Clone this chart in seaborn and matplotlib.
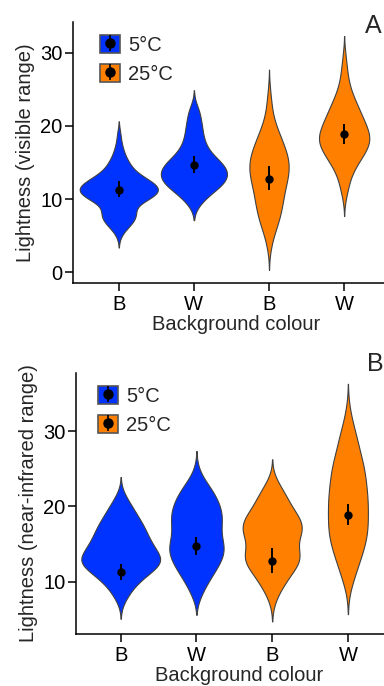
import numpy as np
import pandas as pd
import matplotlib
matplotlib.use("Agg")
import matplotlib.pyplot as plt
import seaborn as sns
from matplotlib.patches import Patch
from matplotlib.lines import Line2D

# groups in plotting order: temperature x background colour
groups = ["5B", "5W", "25B", "25W"]
tick_labels = ["B", "W", "B", "W"]
temps = ["5°C", "25°C"]
blue = "#0033ff"
orange = "#ff8000"
group_colours = [blue, blue, orange, orange]

# visible range: lightness levels and number of animals at each level
vis_5B_levels = [5, 6, 7, 8, 9, 10, 11, 12, 13, 14, 15, 16, 17, 18, 19]
vis_5B_counts = [1, 4, 8, 9, 7, 15, 21, 19, 12, 7, 5, 3, 2, 1, 1]
vis_5W_levels = [9, 10, 11, 12, 13, 14, 15, 16, 17, 18, 19, 20, 21, 22, 23]
vis_5W_counts = [2, 5, 9, 14, 16, 16, 13, 9, 6, 5, 4, 4, 3, 3, 1]
vis_25B_levels = [3, 4, 5, 6, 7, 8, 9, 10, 11, 12, 13, 14, 15, 16, 17, 18, 19,
                  20, 21, 22, 23, 24, 25]
vis_25B_counts = [1, 2, 3, 5, 7, 8, 9, 10, 10, 12, 13, 14, 14, 13, 11, 9, 7,
                  5, 3, 2, 2, 1, 1]
vis_25W_levels = [10, 11, 12, 13, 14, 15, 16, 17, 18, 19, 20, 21, 22, 23, 24,
                  25, 26, 27, 28, 29, 30]
vis_25W_counts = [1, 2, 3, 4, 6, 9, 12, 15, 17, 16, 14, 12, 10, 8, 6, 4, 3, 2,
                  2, 1, 1]

# near-infrared range
nir_5B_levels = [7, 8, 9, 10, 11, 12, 13, 14, 15, 16, 17, 18, 19, 20, 21, 22]
nir_5B_counts = [1, 3, 5, 8, 12, 17, 19, 16, 14, 12, 11, 9, 7, 5, 3, 1]
nir_5W_levels = [8, 9, 10, 11, 12, 13, 14, 15, 16, 17, 18, 19, 20, 21, 22, 23,
                 24, 25]
nir_5W_counts = [2, 3, 5, 7, 9, 11, 12, 12, 10, 10, 11, 11, 10, 9, 7, 5, 2, 1]
nir_25B_levels = [7, 8, 9, 10, 11, 12, 13, 14, 15, 16, 17, 18, 19, 20, 21, 22,
                  23, 24]
nir_25B_counts = [1, 2, 4, 6, 8, 11, 13, 12, 10, 12, 14, 13, 11, 8, 7, 5, 3, 1]
nir_25W_levels = [9, 10, 11, 12, 13, 14, 15, 16, 17, 18, 19, 20, 21, 22, 23,
                  24, 25, 26, 27, 28, 29, 30, 31, 32, 33]
nir_25W_counts = [1, 2, 3, 4, 5, 6, 7, 8, 8, 8, 8, 8, 8, 8, 7, 7, 7, 6, 5, 4,
                  4, 3, 2, 1, 1]

# mean and 95% CI shown on each violin
vis_means = [11.3, 14.7, 12.8, 18.9]
vis_lower = [10.3, 13.5, 11.2, 17.5]
vis_upper = [12.4, 15.9, 14.5, 20.3]
nir_means = [11.3, 14.7, 12.8, 18.9]
nir_lower = [10.2, 13.5, 11.2, 17.5]
nir_upper = [12.4, 15.9, 14.5, 20.3]


def make_frame(levels_list, counts_list):
    parts = []
    for g, lv, ct in zip(groups, levels_list, counts_list):
        parts.append(pd.DataFrame({"group": g, "lightness": np.repeat(lv, ct)}))
    return pd.concat(parts, ignore_index=True)


vis_df = make_frame([vis_5B_levels, vis_5W_levels, vis_25B_levels, vis_25W_levels],
                    [vis_5B_counts, vis_5W_counts, vis_25B_counts, vis_25W_counts])
nir_df = make_frame([nir_5B_levels, nir_5W_levels, nir_25B_levels, nir_25W_levels],
                    [nir_5B_counts, nir_5W_counts, nir_25B_counts, nir_25W_counts])

sns.set_style("ticks")
plt.rcParams['font.family'] = ['Liberation Sans', 'DejaVu Sans']
plt.rcParams['axes.linewidth'] = 1.1
plt.rcParams['xtick.major.width'] = 1.1
plt.rcParams['ytick.major.width'] = 1.1
plt.rcParams['xtick.major.size'] = 5.5
plt.rcParams['ytick.major.size'] = 5.5
plt.rcParams['xtick.color'] = 'black'
plt.rcParams['ytick.color'] = 'black'
plt.rcParams['axes.edgecolor'] = 'black'

fs = 14.5

fig = plt.figure(figsize=(3.84, 6.86), dpi=100)
# the axes run a little past the right edge of the figure, as in the original
ax_a = fig.add_axes([0.190, 0.5875, 0.849, 0.3805])
ax_b = fig.add_axes([0.198, 0.0758, 0.852, 0.3805])


def draw_panel(ax, df, means, lower, upper, ylabel, yticks, ylim, xlim, leg_anchor):
    sns.violinplot(data=df, x="group", y="lightness", hue="group",
                   order=groups, hue_order=groups,
                   palette=dict(zip(groups, group_colours)), saturation=1,
                   inner=None, common_norm=True, density_norm="area",
                   width=1.04, bw_method=0.3, cut=2,
                   linewidth=0.8, linecolor="#404040", legend=False, ax=ax)
    m = np.array(means)
    err = [m - np.array(lower), np.array(upper) - m]
    ax.errorbar(np.arange(len(groups)), m, yerr=err, fmt='o', color='black',
                ms=5, elinewidth=1.4, capsize=0, zorder=5)
    ax.set_xlim(*xlim)
    ax.set_ylim(*ylim)
    ax.set_yticks(yticks)
    ax.set_xticks(np.arange(len(groups)))
    ax.set_xticklabels(tick_labels, fontsize=fs)
    ax.tick_params(axis='y', labelsize=fs, pad=2)
    ax.tick_params(axis='x', pad=3)
    ax.set_xlabel("Background colour", fontsize=fs, labelpad=1)
    ax.set_ylabel(ylabel, fontsize=fs, labelpad=4)
    for s in ["top", "right"]:
        ax.spines[s].set_visible(False)

    handles = []
    for c in [blue, orange]:
        handles.append((Patch(facecolor=c, edgecolor="#555555", linewidth=1.2),
                        Line2D([], [], color='black', marker='|', markersize=12,
                               markeredgewidth=1.2, linestyle='none'),
                        Line2D([], [], color='black', marker='o', markersize=6.5,
                               linestyle='none')))
    ax.legend(handles=handles, labels=temps, loc='upper left',
              bbox_to_anchor=leg_anchor, frameon=False, fontsize=fs,
              handlelength=1.0, handleheight=1.0, handletextpad=0.4,
              labelspacing=0.45, borderpad=0, borderaxespad=0)


draw_panel(ax_a, vis_df, vis_means, vis_lower, vis_upper,
           "Lightness (visible range)", [0, 10, 20, 30], (-1.5, 34.25),
           (-0.61, 3.73), (0.082, 0.95))
draw_panel(ax_b, nir_df, nir_means, nir_lower, nir_upper,
           "Lightness (near-infrared range)", [10, 20, 30], (3.05, 37.75),
           (-0.59, 3.73), (0.067, 0.95))

fig.text(0.95, 0.98, "A", fontsize=18, ha='left', va='top')
fig.text(0.955, 0.487, "B", fontsize=18, ha='left', va='top')

fig.savefig("out.png", dpi=100)
